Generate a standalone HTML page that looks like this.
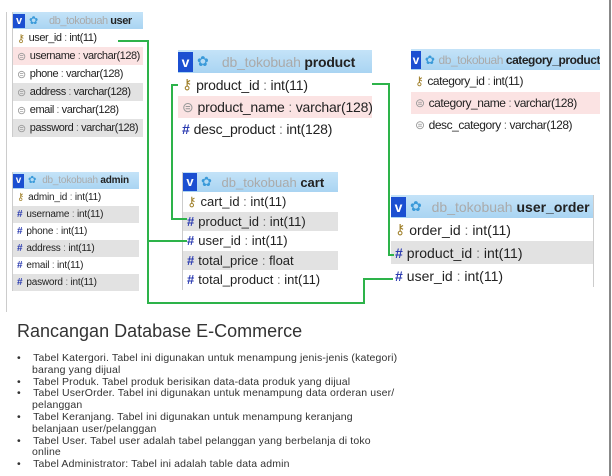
<!DOCTYPE html>
<html><head><meta charset="utf-8"><style>
body{margin:0;width:612px;height:476px;background:#fff;position:relative;overflow:hidden;font-family:"Liberation Sans",sans-serif}
.t{position:absolute;background:#fff;border-left:1px solid #ccc;overflow:hidden}
.h{background:linear-gradient(#c4e3f8,#a9d4f2);color:#aaa;white-space:nowrap;position:relative;display:flex;align-items:center}
.h b{color:#222}
.v{background:#1b4fd1;color:#fff;font-weight:bold;display:inline-block;text-align:center;margin-right:4px;letter-spacing:0}
.g{color:#3a9ad9;margin-right:6px}
.r{white-space:nowrap;color:#222;display:flex;align-items:center;padding-left:4px}
.r i{font-style:normal;color:#999;margin-right:4px}
.r i.k{color:#a0802a}
.r i.n{color:#2a3ab0;font-weight:bold}
.r span{color:#777}
.pk{background:#fbe3e3}.gr{background:#e2e2e2}
.ln{position:absolute;background:#2db34a}
.txt{position:absolute;color:#333;font-size:10.5px;line-height:11.8px;letter-spacing:0.15px}
</style></head><body>
<div style="position:absolute;left:6px;top:12px;width:1px;height:300px;background:#ccc"></div>
<div style="position:absolute;left:609px;top:0;width:2px;height:476px;background:#888"></div>

<!-- user -->
<div class="t" style="left:12px;top:12px;width:130px;font-size:11px;letter-spacing:-0.45px">
<div class="h" style="height:17px"><span class="v" style="width:12px;height:14px;line-height:14px">v</span><span class="g">✿</span>&nbsp;&nbsp;db_tokobuah&nbsp;<b>user</b></div>
<div class="r" style="height:18px"><i class="k">⚷</i>user_id <span>&nbsp;:&nbsp;</span>int(11)</div>
<div class="r pk" style="height:18px"><i>⊜</i>username <span>&nbsp;:&nbsp;</span>varchar(128)</div>
<div class="r" style="height:18px"><i>⊜</i>phone <span>&nbsp;:&nbsp;</span>varchar(128)</div>
<div class="r gr" style="height:18px"><i>⊜</i>address <span>&nbsp;:&nbsp;</span>varchar(128)</div>
<div class="r" style="height:18px"><i>⊜</i>email <span>&nbsp;:&nbsp;</span>varchar(128)</div>
<div class="r gr" style="height:18px"><i>⊜</i>password <span>&nbsp;:&nbsp;</span>varchar(128)</div>
</div>

<!-- admin -->
<div class="t" style="left:12px;top:172px;width:126px;font-size:10px;letter-spacing:-0.2px">
<div class="h" style="height:17px"><span class="v" style="width:11px;height:14px;line-height:14px">v</span><span class="g">✿</span>db_tokobuah&nbsp;<b>admin</b></div>
<div class="r" style="height:17px"><i class="k">⚷</i>admin_id <span>&nbsp;:&nbsp;</span>int(11)</div>
<div class="r gr" style="height:17px"><i class="n">#</i>username <span>&nbsp;:&nbsp;</span>int(11)</div>
<div class="r" style="height:17px"><i class="n">#</i>phone <span>&nbsp;:&nbsp;</span>int(11)</div>
<div class="r gr" style="height:17px"><i class="n">#</i>address <span>&nbsp;:&nbsp;</span>int(11)</div>
<div class="r" style="height:17px"><i class="n">#</i>email <span>&nbsp;:&nbsp;</span>int(11)</div>
<div class="r gr" style="height:17px"><i class="n">#</i>pasword <span>&nbsp;:&nbsp;</span>int(11)</div>
</div>

<!-- product -->
<div class="t" style="left:178px;top:50px;width:194px;font-size:14px;border:none;letter-spacing:-0.2px">
<div class="h" style="height:23px"><span class="v" style="width:15px;height:20px;line-height:20px">v</span><span class="g">✿</span>&nbsp;&nbsp;db_tokobuah&nbsp;<b>product</b></div>
<div class="r" style="height:23px"><i class="k">⚷</i>product_id <span>&nbsp;:&nbsp;</span>int(11)</div>
<div class="r pk" style="height:22px"><i>⊜</i>product_name <span>&nbsp;:&nbsp;</span>varchar(128)</div>
<div class="r" style="height:22px"><i class="n">#</i>desc_product <span>&nbsp;:&nbsp;</span>int(128)</div>
</div>

<!-- cart -->
<div class="t" style="left:182px;top:172px;width:155px;font-size:13px">
<div class="h" style="height:20px"><span class="v" style="width:14px;height:18px;line-height:18px">v</span><span class="g">✿</span>&nbsp;db_tokobuah&nbsp;<b>cart</b></div>
<div class="r" style="height:19.5px"><i class="k">⚷</i>cart_id <span>&nbsp;:&nbsp;</span>int(11)</div>
<div class="r gr" style="height:19.5px"><i class="n">#</i>product_id <span>&nbsp;:&nbsp;</span>int(11)</div>
<div class="r" style="height:19.5px"><i class="n">#</i>user_id <span>&nbsp;:&nbsp;</span>int(11)</div>
<div class="r gr" style="height:19.5px"><i class="n">#</i>total_price <span>&nbsp;:&nbsp;</span>float</div>
<div class="r" style="height:19.5px"><i class="n">#</i>total_product <span>&nbsp;:&nbsp;</span>int(11)</div>
</div>

<!-- category_product -->
<div class="t" style="left:411px;top:49px;width:189px;font-size:12px;border:none;letter-spacing:-0.45px">
<div class="h" style="height:21px"><span class="v" style="width:10px;height:18px;line-height:18px">v</span><span class="g" style="margin-right:4px">✿</span>db_tokobuah&nbsp;<b>category_product</b></div>
<div class="r" style="height:22px"><i class="k">⚷</i>category_id <span>&nbsp;:&nbsp;</span>int(11)</div>
<div class="r pk" style="height:22px"><i>⊜</i>category_name <span>&nbsp;:&nbsp;</span>varchar(128)</div>
<div class="r" style="height:22px"><i>⊜</i>desc_category <span>&nbsp;:&nbsp;</span>varchar(128)</div>
</div>

<!-- user_order -->
<div class="t" style="left:391px;top:195px;width:202px;font-size:14px;border-left:none;border-right:1px solid #ccc">
<div class="h" style="height:23px"><span class="v" style="width:15px;height:20px;line-height:20px">v</span><span class="g">✿</span>&nbsp;db_tokobuah&nbsp;<b>user_order</b></div>
<div class="r" style="height:23px"><i class="k">⚷</i>order_id <span>&nbsp;:&nbsp;</span>int(11)</div>
<div class="r gr" style="height:23px"><i class="n">#</i>product_id <span>&nbsp;:&nbsp;</span>int(11)</div>
<div class="r" style="height:23px"><i class="n">#</i>user_id <span>&nbsp;:&nbsp;</span>int(11)</div>
</div>

<!-- connectors -->
<div class="ln" style="left:118px;top:40px;width:31px;height:2px"></div>
<div class="ln" style="left:147px;top:40px;width:2px;height:264px"></div>
<div class="ln" style="left:147px;top:302px;width:218px;height:2px"></div>
<div class="ln" style="left:363px;top:278px;width:2px;height:26px"></div>
<div class="ln" style="left:363px;top:278px;width:30px;height:2px"></div>
<div class="ln" style="left:147px;top:240px;width:40px;height:2px"></div>
<div class="ln" style="left:171px;top:84px;width:7px;height:2px"></div>
<div class="ln" style="left:171px;top:84px;width:2px;height:136px"></div>
<div class="ln" style="left:171px;top:218px;width:16px;height:2px"></div>
<div class="ln" style="left:372px;top:83px;width:18px;height:2px"></div>
<div class="ln" style="left:388px;top:83px;width:2px;height:173px"></div>
<div class="ln" style="left:388px;top:254px;width:6px;height:2px"></div>

<div style="position:absolute;left:17px;top:321px;font-size:18px;color:#333">Rancangan Database E-Commerce</div>
<div class="txt" style="left:17px;top:353px">
<div>•&nbsp;&nbsp;&nbsp;&nbsp;Tabel Katergori. Tabel ini digunakan untuk menampung jenis-jenis (kategori)</div>
<div style="padding-left:15px">barang yang dijual</div>
<div>•&nbsp;&nbsp;&nbsp;&nbsp;Tabel Produk. Tabel produk berisikan data-data produk yang dijual</div>
<div>•&nbsp;&nbsp;&nbsp;&nbsp;Tabel UserOrder. Tabel ini digunakan untuk menampung data orderan user/</div>
<div style="padding-left:15px">pelanggan</div>
<div>•&nbsp;&nbsp;&nbsp;&nbsp;Tabel Keranjang. Tabel ini digunakan untuk menampung keranjang</div>
<div style="padding-left:15px">belanjaan user/pelanggan</div>
<div>•&nbsp;&nbsp;&nbsp;&nbsp;Tabel User. Tabel user adalah tabel pelanggan yang berbelanja di toko</div>
<div style="padding-left:15px">online</div>
<div>•&nbsp;&nbsp;&nbsp;&nbsp;Tabel Administrator: Tabel ini adalah table data admin</div>
</div>
</body></html>
